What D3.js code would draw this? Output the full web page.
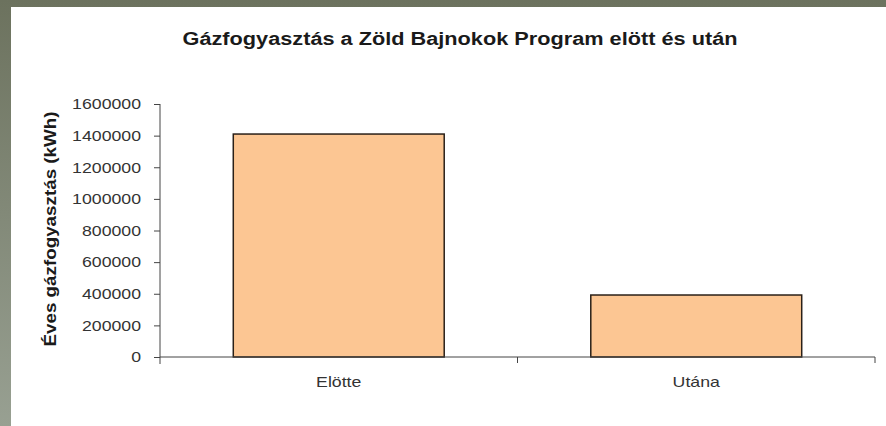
<!DOCTYPE html>
<html>
<head>
<meta charset="utf-8">
<script src="https://cdn.jsdelivr.net/npm/d3@7"></script>
<style>
  body { margin: 0; background: #7d8372; }
  svg { display: block; }
</style>
</head>
<body>
<svg class="chart" width="886" height="426"></svg>
<script>
var categories = ['Elötte', 'Utána'];
var values = [1410000, 392000];
var yTicks = [0, 200000, 400000, 600000, 800000, 1000000, 1200000, 1400000, 1600000];
var title = 'Gázfogyasztás a Zöld Bajnokok Program elött és után';
var yTitle = 'Éves gázfogyasztás (kWh)';

var svg = d3.select('.chart');
var font = 'Liberation Sans, Arial, sans-serif';

// the source picture is a bit stretched sideways, so widen horizontal texts
var widen = function () { return this.getComputedTextLength() * 1.18; };

// greyish textured frame, white chart sheet
var grad = svg.append('defs').append('linearGradient')
  .attr('id', 'frame').attr('x1', 0).attr('y1', 0).attr('x2', 0).attr('y2', 1);
grad.append('stop').attr('offset', '0%').attr('stop-color', '#6c725e');
grad.append('stop').attr('offset', '100%').attr('stop-color', '#98a092');
svg.append('rect').attr('width', 886).attr('height', 426).attr('fill', 'url(#frame)');
svg.append('rect').attr('x', 11).attr('y', 7).attr('width', 875).attr('height', 419).attr('fill', '#fff');

// plot box (named so it does not clash with window.top)
var plotLeft = 160, plotRight = 875, plotTop = 104, plotBottom = 357;

var x = d3.scaleBand().domain(categories).range([plotLeft, plotRight]).paddingInner(0.41).paddingOuter(0.205);
var y = d3.scaleLinear().domain([0, 1600000]).range([plotBottom, plotTop]);

svg.append('text')
  .attr('x', 460).attr('y', 45)
  .attr('text-anchor', 'middle')
  .attr('font-family', font)
  .attr('font-size', 17.5).attr('font-weight', 'bold')
  .attr('fill', '#1a1a1a')
  .text(title)
  .attr('lengthAdjust', 'spacingAndGlyphs')
  .attr('textLength', 555);

svg.selectAll('rect.bar')
  .data(values)
  .enter()
  .append('rect')
  .attr('class', 'bar')
  .attr('x', function (d, i) { return x(categories[i]); })
  .attr('y', function (d) { return y(d); })
  .attr('width', x.bandwidth())
  .attr('height', function (d) { return plotBottom - y(d); })
  .attr('fill', '#fcc693')
  .attr('stroke', '#2a2018')
  .attr('stroke-width', 1.5);

// y axis
var yAxis = svg.append('g')
  .attr('transform', 'translate(' + plotLeft + ',0)')
  .call(d3.axisLeft(y).tickValues(yTicks).tickSize(6).tickPadding(13).tickFormat(d3.format('d')));
yAxis.select('.domain').attr('stroke', '#444').attr('d', 'M0,' + plotTop + 'V' + (plotBottom + 7));
yAxis.selectAll('.tick line').attr('stroke', '#444');
yAxis.selectAll('text')
  .attr('font-family', font)
  .attr('font-size', 15).attr('fill', '#333')
  .attr('lengthAdjust', 'spacingAndGlyphs')
  .attr('textLength', widen);

// x axis with ticks between categories
var xAxis = svg.append('g').attr('transform', 'translate(0,' + plotBottom + ')');
xAxis.append('line').attr('x1', plotLeft).attr('x2', plotRight).attr('stroke', '#444');
xAxis.selectAll('line.sep')
  .data([plotLeft + (plotRight - plotLeft) / 2, plotRight])
  .enter()
  .append('line')
  .attr('class', 'sep')
  .attr('x1', function (d) { return d; }).attr('x2', function (d) { return d; })
  .attr('y1', 0).attr('y2', 6)
  .attr('stroke', '#444');
xAxis.selectAll('text')
  .data(categories)
  .enter()
  .append('text')
  .attr('x', function (d) { return x(d) + x.bandwidth() / 2; })
  .attr('y', 30)
  .attr('text-anchor', 'middle')
  .attr('font-family', font)
  .attr('font-size', 15).attr('fill', '#333')
  .text(function (d) { return d; })
  .attr('lengthAdjust', 'spacingAndGlyphs')
  .attr('textLength', widen);

svg.append('text')
  .attr('transform', 'translate(56,229) rotate(-90)')
  .attr('text-anchor', 'middle')
  .attr('font-family', font)
  .attr('font-size', 17).attr('font-weight', 'bold')
  .attr('fill', '#1a1a1a')
  .text(yTitle)
  .attr('lengthAdjust', 'spacingAndGlyphs')
  .attr('textLength', 235);
</script>
</body>
</html>
